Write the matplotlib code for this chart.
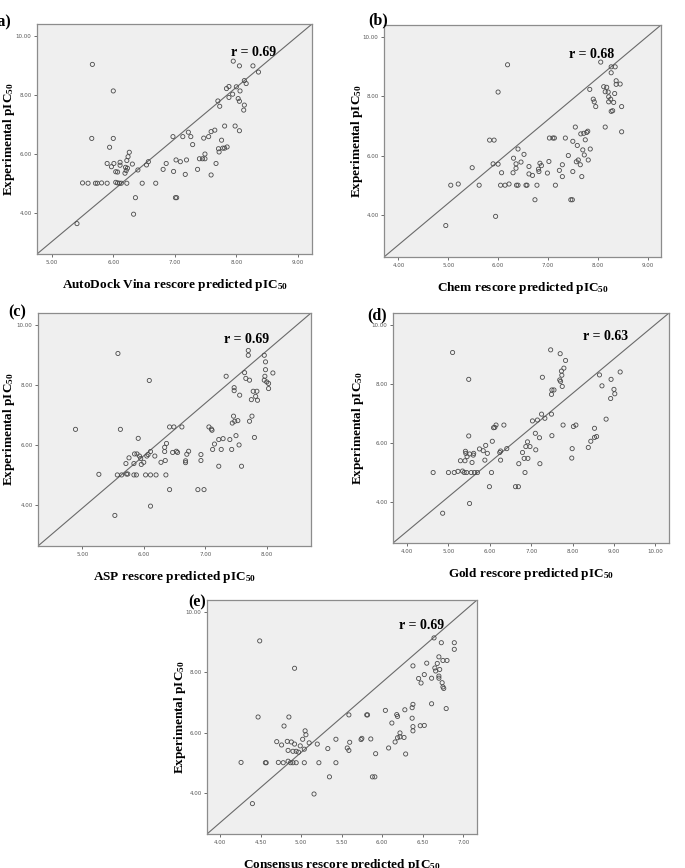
import matplotlib
matplotlib.use("Agg")
import matplotlib.pyplot as plt

plt.rcParams['font.family'] = 'Liberation Serif'
plt.rcParams['mathtext.fontset'] = 'custom'
plt.rcParams['mathtext.rm'] = 'Liberation Serif:bold'
plt.rcParams['mathtext.bf'] = 'Liberation Serif:bold'
plt.rcParams['mathtext.default'] = 'bf'

# (a) AutoDock Vina
a_x = [5.66, 6.00, 5.65, 6.00, 5.94, 6.26, 6.24, 6.22, 5.90, 6.01,
       6.11, 6.11, 5.97, 6.20, 6.23, 6.31, 6.04, 6.07, 6.21, 6.19,
       6.40, 6.54, 6.57, 5.50, 5.59, 5.71, 5.74, 5.81, 5.90, 6.04,
       6.07, 6.10, 6.13, 6.22, 6.47, 6.69, 6.36, 6.33, 5.41, 6.81,
       6.86, 6.98, 7.02, 7.09, 7.17, 7.19, 6.97, 7.13, 7.22, 7.26,
       7.29, 7.01, 7.03, 7.37, 7.40, 7.45, 7.49, 7.49, 7.47, 7.55,
       7.59, 7.65, 7.59, 7.67, 7.72, 7.71, 7.76, 7.78, 7.81, 7.85,
       7.81, 7.98, 8.05, 7.70, 7.73, 7.84, 7.88, 7.88, 7.94, 8.00,
       8.03, 8.06, 8.05, 8.13, 8.12, 7.95, 8.05, 8.13, 8.16, 8.27,
       8.36]
a_y = [9.04, 8.14, 6.53, 6.53, 6.23, 6.06, 5.91, 5.78, 5.68, 5.68,
       5.72, 5.62, 5.57, 5.55, 5.52, 5.66, 5.40, 5.39, 5.44, 5.35,
       5.46, 5.63, 5.74, 5.02, 5.01, 5.01, 5.01, 5.02, 5.01, 5.04,
       5.02, 5.01, 5.01, 5.01, 5.01, 5.01, 4.52, 3.96, 3.64, 5.48,
       5.68, 5.41, 5.80, 5.74, 5.31, 5.80, 6.59, 6.59, 6.74, 6.59,
       6.32, 4.52, 4.52, 5.48, 5.84, 5.84, 5.84, 6.00, 6.54, 6.59,
       6.76, 6.81, 5.29, 5.68, 6.07, 6.18, 6.47, 6.20, 6.20, 6.24,
       6.95, 6.95, 6.79, 7.80, 7.62, 8.22, 8.29, 7.92, 8.03, 8.28,
       7.88, 8.14, 7.79, 7.66, 7.49, 9.15, 8.99, 8.49, 8.39, 8.99,
       8.78]

# (b) Chem
b_x = [4.95, 5.05, 5.20, 5.48, 5.62, 5.83, 5.92, 5.90, 6.00, 6.00,
       6.19, 6.07, 5.95, 6.05, 6.14, 6.22, 6.31, 6.40, 6.36, 6.36,
       6.30, 6.46, 6.52, 6.37, 6.40, 6.56, 6.58, 6.62, 6.62, 6.69,
       6.78, 6.74, 6.84, 6.87, 6.81, 6.82, 6.99, 7.02, 7.03, 7.10,
       7.13, 7.15, 7.23, 7.29, 7.29, 7.35, 7.41, 7.50, 7.50, 7.46,
       7.49, 7.55, 7.57, 7.59, 7.61, 7.66, 7.65, 7.68, 7.70, 7.73,
       7.75, 7.78, 7.72, 7.80, 7.81, 7.85, 7.84, 7.91, 7.93, 7.96,
       8.06, 8.12, 8.18, 8.15, 8.21, 8.22, 8.22, 8.26, 8.27, 8.30,
       8.32, 8.15, 8.27, 8.27, 8.35, 8.37, 8.37, 8.34, 8.45, 8.48,
       8.48]
b_y = [3.64, 5.00, 5.04, 5.59, 5.00, 6.52, 6.52, 5.72, 5.71, 8.14,
       9.06, 5.42, 3.95, 5.00, 5.00, 5.04, 5.91, 6.22, 5.72, 5.57,
       5.42, 5.78, 6.04, 5.00, 5.00, 5.00, 5.00, 5.63, 5.38, 5.33,
       5.00, 4.51, 5.74, 5.66, 5.54, 5.46, 5.41, 5.80, 6.59, 6.59,
       6.59, 5.00, 5.50, 5.69, 5.29, 6.59, 6.00, 6.48, 5.46, 4.51,
       4.51, 6.96, 5.79, 6.34, 5.85, 6.73, 5.69, 5.29, 6.19, 6.02,
       6.53, 6.78, 6.75, 6.82, 5.85, 6.22, 8.23, 7.90, 7.81, 7.65,
       9.15, 8.32, 8.30, 8.15, 8.14, 7.98, 7.81, 7.90, 7.49, 7.51,
       7.79, 6.96, 8.79, 8.99, 8.99, 8.52, 8.40, 8.09, 8.41, 7.65,
       6.80]

# (c) ASP
c_x = [4.89, 5.58, 5.62, 6.09, 5.27, 5.53, 6.11, 5.57, 5.64, 5.72,
       5.74, 5.84, 5.88, 6.03, 6.11, 6.20, 6.36, 6.42, 5.71, 5.76,
       5.85, 5.89, 5.84, 5.91, 5.95, 5.93, 5.96, 6.00, 6.05, 6.07,
       6.11, 6.18, 6.28, 6.35, 6.34, 6.34, 6.37, 6.47, 6.53, 6.55,
       6.42, 6.49, 6.62, 6.68, 6.68, 6.70, 6.73, 6.88, 6.98, 6.93,
       6.93, 7.06, 7.10, 7.11, 7.15, 7.12, 7.22, 7.22, 7.26, 7.29,
       7.40, 7.43, 7.50, 7.55, 7.59, 7.46, 7.44, 7.48, 7.53, 7.34,
       7.47, 7.47, 7.56, 7.64, 7.66, 7.72, 7.70, 7.70, 7.75, 7.78,
       7.84, 7.82, 7.85, 7.72, 7.76, 7.80, 7.96, 7.98, 7.98, 7.97,
       7.96, 8.00, 8.03, 8.03, 8.10]
c_y = [6.53, 9.06, 6.53, 8.16, 5.03, 3.66, 3.97, 5.01, 5.01, 5.04,
       5.04, 5.01, 5.01, 5.01, 5.01, 5.01, 5.01, 4.52, 5.39, 5.58,
       5.71, 5.71, 5.39, 6.23, 5.56, 5.64, 5.36, 5.43, 5.64, 5.69,
       5.79, 5.64, 5.43, 5.49, 5.79, 5.93, 6.06, 5.76, 5.80, 5.76,
       6.61, 6.61, 6.61, 5.48, 5.42, 5.70, 5.80, 4.52, 4.52, 5.69,
       5.49, 6.61, 6.54, 6.50, 6.04, 5.86, 6.19, 5.30, 5.86, 6.22,
       6.19, 5.86, 6.32, 6.01, 5.30, 6.97, 6.74, 6.80, 6.82, 8.30,
       7.92, 7.82, 7.67, 8.42, 8.23, 8.17, 9.16, 9.00, 7.52, 7.80,
       7.80, 7.63, 7.50, 6.80, 6.97, 6.26, 9.00, 8.78, 8.52, 8.30,
       8.17, 8.11, 8.06, 7.89, 8.41]

# (d) Gold
d_x = [4.63, 4.86, 5.10, 5.49, 5.49, 5.51, 5.00, 5.14, 5.23, 5.34,
       5.38, 5.44, 5.55, 5.63, 5.70, 5.29, 5.40, 5.41, 5.42, 5.45,
       5.51, 5.57, 5.60, 5.61, 5.75, 5.84, 5.88, 5.90, 5.94, 5.99,
       6.04, 6.06, 6.09, 6.12, 6.15, 6.24, 6.26, 6.26, 6.34, 6.41,
       6.62, 6.69, 6.70, 6.79, 6.83, 6.85, 6.87, 6.91, 6.92, 6.97,
       7.03, 7.10, 7.11, 7.15, 7.20, 7.21, 7.25, 7.33, 7.27, 7.47,
       7.49, 7.50, 7.50, 7.49, 7.55, 7.70, 7.69, 7.71, 7.74, 7.73,
       7.75, 7.79, 7.83, 7.77, 7.99, 7.98, 8.02, 8.08, 8.38, 8.44,
       8.53, 8.53, 8.58, 8.65, 8.71, 8.81, 8.92, 8.93, 9.00, 9.02,
       9.15]
d_y = [5.01, 3.63, 9.08, 8.17, 6.25, 3.96, 5.01, 5.01, 5.05, 5.06,
       5.01, 5.01, 5.01, 5.01, 5.01, 5.41, 5.41, 5.73, 5.66, 5.55,
       5.64, 5.35, 5.60, 5.66, 5.81, 5.75, 5.43, 5.93, 5.66, 4.53,
       5.01, 6.07, 6.53, 6.54, 6.62, 5.69, 5.43, 5.74, 6.62, 5.82,
       4.53, 4.53, 5.31, 5.69, 5.49, 5.01, 5.89, 6.05, 5.49, 5.89,
       6.76, 6.34, 5.78, 6.79, 6.19, 5.31, 6.99, 6.85, 8.24, 9.17,
       6.99, 6.26, 7.81, 7.66, 7.81, 9.04, 8.15, 8.10, 8.31, 8.45,
       7.93, 8.55, 8.81, 6.62, 5.82, 5.50, 6.57, 6.62, 5.86, 6.07,
       6.51, 6.20, 6.23, 8.32, 7.95, 6.82, 7.52, 8.17, 7.83, 7.68,
       8.42]

# (e) Consensus
e_x = [4.26, 4.40, 4.49, 4.47, 4.92, 4.85, 4.79, 4.56, 4.57, 4.72,
       4.78, 4.84, 4.87, 4.90, 4.94, 5.04, 5.22, 5.43, 4.70, 4.76,
       4.83, 4.88, 4.92, 4.84, 4.90, 4.94, 4.97, 4.99, 5.02, 5.04,
       5.05, 5.06, 5.10, 5.20, 5.16, 5.35, 5.33, 5.43, 5.57, 5.59,
       5.60, 5.59, 5.74, 5.75, 5.81, 5.82, 5.86, 5.88, 5.91, 5.92,
       6.04, 6.08, 6.12, 6.16, 6.18, 6.19, 6.19, 6.22, 6.22, 6.27,
       6.28, 6.29, 6.37, 6.37, 6.38, 6.38, 6.38, 6.38, 6.47, 6.52,
       6.45, 6.48, 6.52, 6.55, 6.61, 6.61, 6.64, 6.65, 6.66, 6.68,
       6.70, 6.70, 6.71, 6.70, 6.74, 6.75, 6.76, 6.73, 6.75, 6.80,
       6.79, 6.89, 6.89]
e_y = [5.01, 3.64, 9.05, 6.52, 8.14, 6.52, 6.22, 5.00, 5.00, 5.01,
       5.00, 5.05, 5.00, 5.00, 5.00, 5.00, 5.00, 5.00, 5.70, 5.59,
       5.71, 5.69, 5.62, 5.41, 5.38, 5.38, 5.35, 5.56, 5.78, 5.45,
       6.06, 5.93, 5.66, 5.62, 3.96, 4.53, 5.47, 5.78, 5.49, 5.41,
       5.68, 6.59, 5.77, 5.81, 6.59, 6.59, 5.79, 4.53, 4.53, 5.30,
       6.74, 5.49, 6.32, 5.69, 6.60, 6.54, 5.83, 5.99, 5.86, 5.84,
       6.76, 5.29, 6.48, 6.83, 6.94, 6.20, 6.06, 8.22, 6.23, 6.24,
       7.80, 7.65, 7.93, 8.31, 7.81, 6.96, 9.15, 8.15, 8.05, 8.30,
       7.81, 7.88, 8.10, 8.52, 7.66, 7.52, 7.47, 8.99, 8.40, 8.40,
       6.80, 8.99, 8.77]

letters = ['(a)', '(b)', '(c)', '(d)', '(e)']
methods = ['AutoDock Vina', 'Chem', 'ASP', 'Gold', 'Consensus']
r_vals = [0.69, 0.68, 0.69, 0.63, 0.69]
xs = [a_x, b_x, c_x, d_x, e_x]
ys = [a_y, b_y, c_y, d_y, e_y]
x_ticks = [[5, 6, 7, 8, 9], [4, 5, 6, 7, 8, 9], [5, 6, 7, 8],
           [4, 5, 6, 7, 8, 9, 10], [4, 4.5, 5, 5.5, 6, 6.5, 7]]
y_ticks = [4, 6, 8, 10]

# layout in pixels: left, top, right, bottom
boxes = [(37, 24, 312, 254), (384, 25, 661, 257), (38, 313, 311, 546),
         (393, 313, 669, 543), (207, 600, 477, 834)]
xlims = [(4.76, 9.23), (3.71, 9.27), (4.28, 8.72), (3.66, 10.33), (3.84, 7.17)]
ylims = [(2.61, 10.41), (2.58, 10.40), (2.64, 10.41), (2.62, 10.42), (2.63, 10.41)]
r_pos = [(0.705, 0.878), (0.668, 0.875), (0.681, 0.888), (0.688, 0.9), (0.711, 0.889)]
letter_px = [(-8, 22), (368, 20), (8, 312), (367, 315), (188, 602)]
ylab_px = [9, 357, 9, 358, 180]

W, H = 685, 868
fig = plt.figure(figsize=(W / 100, H / 100), dpi=100)
fig.patch.set_facecolor('white')

for i in range(5):
    l, t, r, b = boxes[i]
    ax = fig.add_axes([l / W, 1 - b / H, (r - l) / W, (b - t) / H])
    ax.set_facecolor('#efefef')
    ax.scatter(xs[i], ys[i], s=9, facecolors='none', edgecolors='#4a4a4a',
               linewidths=0.6, zorder=3)
    # reference diagonal, corner to corner
    ax.plot([0, 1], [0, 1], transform=ax.transAxes, color='#6a6a6a', lw=0.8, zorder=2)
    ax.set_xlim(*xlims[i])
    ax.set_ylim(*ylims[i])
    ax.set_xticks(x_ticks[i])
    ax.set_yticks(y_ticks)
    ax.set_xticklabels(['%.2f' % v for v in x_ticks[i]], family='DejaVu Sans')
    ax.set_yticklabels(['%.2f' % v for v in y_ticks], family='DejaVu Sans')
    ax.tick_params(labelsize=4, length=2.5, width=0.6, colors='#555555', pad=1.5)
    for sp in ax.spines.values():
        sp.set_color('#8c8c8c')
        sp.set_linewidth(0.9)
    ax.set_xlabel(methods[i] + ' rescore predicted pIC$_{50}$',
                  fontsize=9.5, fontweight='bold', labelpad=9)
    ax.text(r_pos[i][0], r_pos[i][1], 'r = %.2f' % r_vals[i], transform=ax.transAxes,
            fontsize=10, fontweight='bold', va='center', ha='left')
    fig.text(ylab_px[i] / W, 1 - ((t + b) / 2) / H, 'Experimental pIC$_{50}$',
             rotation=90, fontsize=9.5, fontweight='bold', ha='center', va='center')
    fig.text(letter_px[i][0] / W, 1 - letter_px[i][1] / H, letters[i],
             fontsize=11.5, fontweight='bold', ha='left', va='center')

fig.savefig('out.png', dpi=100)
